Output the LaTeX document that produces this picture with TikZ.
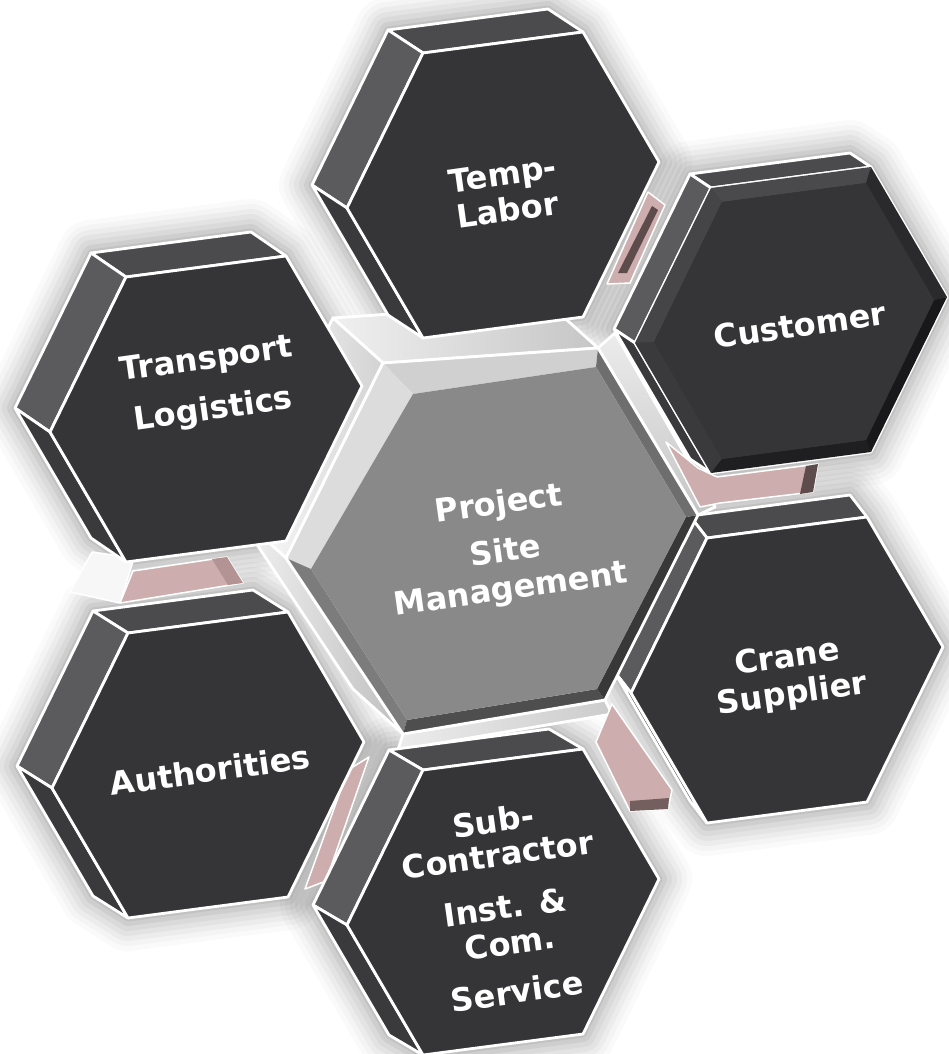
\documentclass[tikz,border=0pt]{standalone}
\usepackage{fontspec}
\setmainfont{DejaVu Sans}
\usetikzlibrary{calc}
\definecolor{hexface}{HTML}{353537}
\definecolor{hextop}{HTML}{4B4B4D}
\definecolor{hexul}{HTML}{5B5B5D}
\definecolor{hexll}{HTML}{3A3A3C}
\definecolor{pinkface}{HTML}{CDADAD}
\definecolor{pinkshade}{HTML}{B39393}
\definecolor{pinkdark}{HTML}{5E4C4C}
\definecolor{cface}{HTML}{898989}
\definecolor{cuTop}{HTML}{4A4A4C}
\definecolor{cuUL}{HTML}{454547}
\definecolor{cuLL}{HTML}{3A3A3C}
\definecolor{cuBot}{HTML}{1F1F21}
\definecolor{cuLR}{HTML}{18181A}
\definecolor{cuUR}{HTML}{2A2A2C}
\definecolor{cTop}{HTML}{D0D0D0}
\definecolor{cUL}{HTML}{DCDCDC}
\definecolor{cLL}{HTML}{7C7C7C}
\definecolor{cBot}{HTML}{4E4E4E}
\definecolor{cLR}{HTML}{383838}
\definecolor{cUR}{HTML}{6E6E6E}
\tikzset{
  wline/.style={draw=white, line width=2.8pt, line join=round},
  hextext/.style={text=white, font=\bfseries\fontsize{32}{35}\selectfont, align=center, rotate=8, inner sep=0pt},
}
% #1 name, #2 cx, #3 cy, #4 depth x, #5 depth y
\newcommand\hexcoords[5]{%
  \coordinate (#1-L)  at (#2-156,#3+23);
  \coordinate (#1-TL) at (#2-80,#3-132);
  \coordinate (#1-TR) at (#2+80,#3-153);
  \coordinate (#1-R)  at (#2+156,#3-23);
  \coordinate (#1-BR) at (#2+80,#3+132);
  \coordinate (#1-BL) at (#2-80,#3+153);
  \coordinate (#1-bL)  at (#2-156-#4,#3+23-#5);
  \coordinate (#1-bTL) at (#2-80-#4,#3-132-#5);
  \coordinate (#1-bTR) at (#2+80-#4,#3-153-#5);
  \coordinate (#1-bBL) at (#2-80-#4,#3+153-#5);
}
\newcommand\hexglow[1]{%
  \foreach \w/\o in {66/0.02,56/0.025,46/0.03,36/0.035,26/0.04,16/0.05,7/0.06}
    \draw[line width=\w pt, black, opacity=\o, line join=round]
      (#1-bL) -- (#1-bTL) -- (#1-bTR) -- (#1-TR) -- (#1-R) -- (#1-BR) -- (#1-BL) -- (#1-bBL) -- cycle;
}
\newcommand\hexbody[1]{%
  \filldraw[wline, fill=hextop] (#1-TL) -- (#1-TR) -- (#1-bTR) -- (#1-bTL) -- cycle;
  \filldraw[wline, fill=hexul] (#1-L) -- (#1-TL) -- (#1-bTL) -- (#1-bL) -- cycle;
  \filldraw[wline, fill=hexll] (#1-BL) -- (#1-L) -- (#1-bL) -- (#1-bBL) -- cycle;
  \filldraw[wline, fill=hexface] (#1-L) -- (#1-TL) -- (#1-TR) -- (#1-R) -- (#1-BR) -- (#1-BL) -- cycle;
}
\begin{document}
\begin{tikzpicture}[x=1pt,y=-1pt]
\useasboundingbox (0,0) rectangle (948,1054);
\fill[white] (0,0) rectangle (948,1054);

% coordinates of the six outer hexagons
\hexcoords{tl}{503}{185}{35}{23}
\hexcoords{cu}{791}{320}{21}{14}
\hexcoords{tr}{206}{409}{35}{24}
\hexcoords{au}{208}{765}{35}{22}
\hexcoords{sc}{503}{902}{34}{20}
\hexcoords{cr}{787}{670}{17}{22}

% central hexagon coordinates
\coordinate (c-L)  at (286,558);
\coordinate (c-TL) at (383,363);
\coordinate (c-TR) at (598,348);
\coordinate (c-R)  at (698,515);
\coordinate (c-BR) at (605,700);
\coordinate (c-BL) at (403,734);
\coordinate (c-iL)  at (311,569);
\coordinate (c-iTL) at (413,394);
\coordinate (c-iTR) at (596,367);
\coordinate (c-iR)  at (686,517);
\coordinate (c-iBR) at (597,689);
\coordinate (c-iBL) at (407,720);
\coordinate (c-bL)  at (236,513);
\coordinate (c-bTL) at (333,318);
\coordinate (c-bTR) at (548,303);
\coordinate (c-bBL) at (353,689);
\coordinate (c-rTR) at (615,333);
\coordinate (c-rR)  at (715,507);
\coordinate (c-dBR) at (612,714);
\coordinate (c-dBL) at (398,750);

% soft shadows
\hexglow{tl}\hexglow{cu}\hexglow{tr}\hexglow{au}\hexglow{sc}\hexglow{cr}

% light sides of the central hexagon
\filldraw[wline, left color=gray!12, right color=gray!45] (c-TL) -- (c-TR) -- (c-bTR) -- (c-bTL) -- cycle;
\filldraw[wline, left color=white, right color=gray!35] (c-L) -- (c-TL) -- (c-bTL) -- (c-bL) -- cycle;
\filldraw[wline, left color=gray!10, right color=gray!50] (c-BL) -- (c-L) -- (c-bL) -- (c-bBL) -- cycle;
\filldraw[wline, top color=gray!15, bottom color=gray!45] (c-TR) -- (c-rTR) -- (c-rR) -- (c-R) -- cycle;
\filldraw[wline, left color=gray!15, right color=gray!40] (c-BL) -- (c-BR) -- (c-dBR) -- (c-dBL) -- cycle;

% pink connecting pieces
\filldraw[wline, line width=1.5pt, fill=gray!6] (70,592) -- (92,552) -- (134,558) -- (120,603) -- cycle;
\filldraw[wline, line width=1.5pt, fill=pinkface] (133,571) -- (227,557) -- (243,583) -- (120,603) -- cycle;
\fill[pinkshade] (212,559) -- (227,557) -- (243,583) -- (228,585) -- cycle;
\filldraw[wline, line width=1.5pt, fill=pinkface] (648,192) -- (665,205) -- (630,283) -- (607,284) -- cycle;
\fill[pinkdark] (652,206) -- (658,210) -- (627,273) -- (618,273) -- cycle;
\filldraw[wline, line width=1.5pt, fill=pinkface] (666,442) -- (698,468) -- (717,477) -- (818,464) -- (813,492) -- (720,503) -- (700,507) -- cycle;
\fill[pinkdark] (806,466) -- (818,464) -- (813,492) -- (800,494) -- cycle;
\filldraw[wline, line width=1.5pt, fill=pinkface] (596,742) -- (612,704) -- (672,790) -- (668,809) -- (630,811) -- cycle;
\fill[pinkdark!80!pinkface] (630,801) -- (669,798) -- (668,809) -- (630,811) -- cycle;
\filldraw[wline, line width=1.5pt, fill=pinkface] (348,770) -- (369,757) -- (326,881) -- (305,889) -- cycle;

% outer hexagons
\hexbody{tl}
\hexbody{tr}
\hexbody{au}
\hexbody{sc}
\hexbody{cr}
\hexbody{cu}
% bevel of the customer hexagon
\coordinate (cu-iL)  at (654,342);
\coordinate (cu-iTL) at (722,202);
\coordinate (cu-iTR) at (866,183);
\coordinate (cu-iR)  at (934,300);
\coordinate (cu-iBR) at (866,440);
\coordinate (cu-iBL) at (722,459);
\fill[cuTop] (cu-TL) -- (cu-TR) -- (cu-iTR) -- (cu-iTL) -- cycle;
\fill[cuUL] (cu-L) -- (cu-TL) -- (cu-iTL) -- (cu-iL) -- cycle;
\fill[cuLL] (cu-BL) -- (cu-L) -- (cu-iL) -- (cu-iBL) -- cycle;
\fill[cuBot] (cu-BR) -- (cu-BL) -- (cu-iBL) -- (cu-iBR) -- cycle;
\fill[cuLR] (cu-R) -- (cu-BR) -- (cu-iBR) -- (cu-iR) -- cycle;
\fill[cuUR] (cu-TR) -- (cu-R) -- (cu-iR) -- (cu-iTR) -- cycle;
\fill[hexface] (cu-iL) -- (cu-iTL) -- (cu-iTR) -- (cu-iR) -- (cu-iBR) -- (cu-iBL) -- cycle;

% central hexagon front with bevel
\fill[cTop] (c-TL) -- (c-TR) -- (c-iTR) -- (c-iTL) -- cycle;
\fill[cUL] (c-L) -- (c-TL) -- (c-iTL) -- (c-iL) -- cycle;
\fill[cLL] (c-BL) -- (c-L) -- (c-iL) -- (c-iBL) -- cycle;
\fill[cBot] (c-BR) -- (c-BL) -- (c-iBL) -- (c-iBR) -- cycle;
\fill[cLR] (c-R) -- (c-BR) -- (c-iBR) -- (c-iR) -- cycle;
\fill[cUR] (c-TR) -- (c-R) -- (c-iR) -- (c-iTR) -- cycle;
\fill[cface] (c-iL) -- (c-iTL) -- (c-iTR) -- (c-iR) -- (c-iBR) -- (c-iBL) -- cycle;
\draw[wline] (c-L) -- (c-TL) -- (c-TR) -- (c-R) -- (c-BR) -- (c-BL) -- cycle;

% labels
\node[hextext] (t-temp) at (505,192) {Temp-\\[1pt]Labor};
\node[hextext] (t-cust) at (800,325) {Customer};
\node[hextext] (t-trans) at (210,386) {Transport\\[16pt]Logistics};
\node[hextext] (t-proj) at (505,548) {Project\\[13pt]Site\\[3pt]Management};
\node[hextext] (t-auth) at (210,770) {Authorities};
\node[hextext] (t-crane) at (790,677) {Crane\\[2pt]Supplier};
\node[hextext] (t-sub) at (505,906) {Sub-\\[-1pt]Contractor\\[18pt]Inst. \&\\[1pt]Com.\\[14pt]Service};
\end{tikzpicture}
\end{document}
